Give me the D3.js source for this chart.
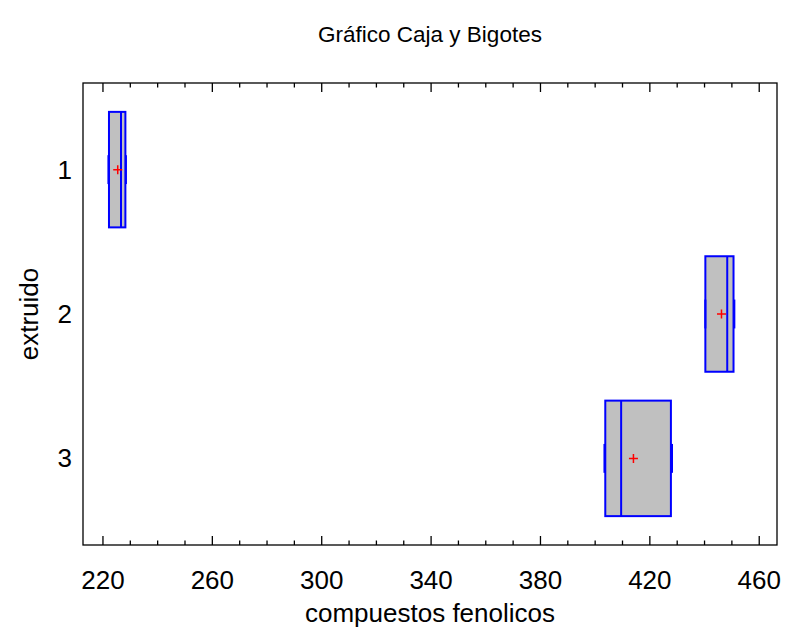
<!DOCTYPE html>
<html>
<head>
<meta charset="utf-8">
<style>
  body { margin: 0; background: #fff; }
  svg { font-family: "Liberation Sans", Arial, sans-serif; }
</style>
</head>
<body>
<svg width="788" height="634"></svg>
<script src="https://d3js.org/d3.v7.min.js"></script>
<script>

var groups  = ["1", "2", "3"],
    mins    = [222.0, 440.3, 403.4],
    q1s     = [222.2, 440.3, 403.7],
    medians = [226.6, 448.3, 409.5],
    q3s     = [228.2, 450.6, 427.7],
    maxs    = [228.4, 450.9, 428.1],
    means   = [225.4, 446.2, 414.0];

var xTicks = [220, 260, 300, 340, 380, 420, 460],
    xMinor = d3.range(220, 461, 10);

var svg = d3.select("svg"),
    pLeft = 83, pRight = 777, pTop = 83, pBottom = 545;

var x = d3.scaleLinear().domain([212.7, 466.5]).range([pLeft, pRight]),
    y = d3.scaleLinear().domain([0.4, 3.6]).range([pTop, pBottom]);

var data = groups.map(function(g, i) {
  return {g: g, pos: i + 1, min: mins[i], q1: q1s[i], med: medians[i], q3: q3s[i], max: maxs[i], mean: means[i]};
});

// title
svg.append("text")
    .attr("x", (pLeft + pRight) / 2)
    .attr("y", 42)
    .attr("text-anchor", "middle")
    .attr("font-size", 22.5)
    .text("Gráfico Caja y Bigotes");

// frame
svg.append("rect")
    .attr("x", pLeft).attr("y", pTop)
    .attr("width", pRight - pLeft).attr("height", pBottom - pTop)
    .attr("fill", "none").attr("stroke", "#000").attr("stroke-width", 1.3);

// ticks bottom + top, pointing inward
var tk = svg.append("g").attr("stroke", "#000").attr("stroke-width", 1.3);
xMinor.forEach(function(v) {
  var len = (v % 40 === 20) ? 9 : 4.5;
  tk.append("line").attr("x1", x(v)).attr("x2", x(v)).attr("y1", pBottom).attr("y2", pBottom - len);
  tk.append("line").attr("x1", x(v)).attr("x2", x(v)).attr("y1", pTop).attr("y2", pTop + len);
});

svg.append("g").selectAll("text")
  .data(xTicks)
  .enter().append("text")
    .attr("x", function(d) { return x(d); })
    .attr("y", 589)
    .attr("text-anchor", "middle")
    .attr("font-size", 26)
    .text(function(d) { return d; });

svg.append("g").selectAll("text")
  .data(data)
  .enter().append("text")
    .attr("x", 72)
    .attr("y", function(d) { return y(d.pos); })
    .attr("dy", "0.35em")
    .attr("text-anchor", "end")
    .attr("font-size", 26)
    .text(function(d) { return d.g; });

// axis titles
svg.append("text")
    .attr("x", (pLeft + pRight) / 2)
    .attr("y", 622)
    .attr("text-anchor", "middle")
    .attr("font-size", 26)
    .text("compuestos fenolicos");

svg.append("text")
    .attr("transform", "translate(38," + (pTop + pBottom) / 2 + ") rotate(-90)")
    .attr("text-anchor", "middle")
    .attr("font-size", 26)
    .text("extruido");

// boxes
var bw = 0.4, cw = 0.1;
var box = svg.append("g").selectAll("g")
  .data(data)
  .enter().append("g");

box.append("rect")
    .attr("x", function(d) { return x(d.q1); })
    .attr("y", function(d) { return y(d.pos - bw); })
    .attr("width", function(d) { return x(d.q3) - x(d.q1); })
    .attr("height", y(1 + bw) - y(1 - bw))
    .attr("fill", "#c0c0c0")
    .attr("stroke", "#0000ff")
    .attr("stroke-width", 2);

box.append("line")
    .attr("x1", function(d) { return x(d.med); })
    .attr("x2", function(d) { return x(d.med); })
    .attr("y1", function(d) { return y(d.pos - bw); })
    .attr("y2", function(d) { return y(d.pos + bw); })
    .attr("stroke", "#0000ff").attr("stroke-width", 2);

// whiskers
box.append("line")
    .attr("x1", function(d) { return x(d.min); })
    .attr("x2", function(d) { return x(d.q1); })
    .attr("y1", function(d) { return y(d.pos); })
    .attr("y2", function(d) { return y(d.pos); })
    .attr("stroke", "#0000ff").attr("stroke-width", 1);
box.append("line")
    .attr("x1", function(d) { return x(d.q3); })
    .attr("x2", function(d) { return x(d.max); })
    .attr("y1", function(d) { return y(d.pos); })
    .attr("y2", function(d) { return y(d.pos); })
    .attr("stroke", "#0000ff").attr("stroke-width", 1);
["min", "max"].forEach(function(k) {
  box.append("line")
      .attr("x1", function(d) { return x(d[k]); })
      .attr("x2", function(d) { return x(d[k]); })
      .attr("y1", function(d) { return y(d.pos - cw); })
      .attr("y2", function(d) { return y(d.pos + cw); })
      .attr("stroke", "#0000ff").attr("stroke-width", 2);
});

// mean marker
box.append("path")
    .attr("d", function(d) {
      var cx = x(d.mean), cy = y(d.pos);
      return "M" + (cx - 4.5) + "," + cy + "H" + (cx + 4.5) + "M" + cx + "," + (cy - 4.5) + "V" + (cy + 4.5);
    })
    .attr("stroke", "#ff0000").attr("stroke-width", 1.5);

</script>
</body>
</html>
